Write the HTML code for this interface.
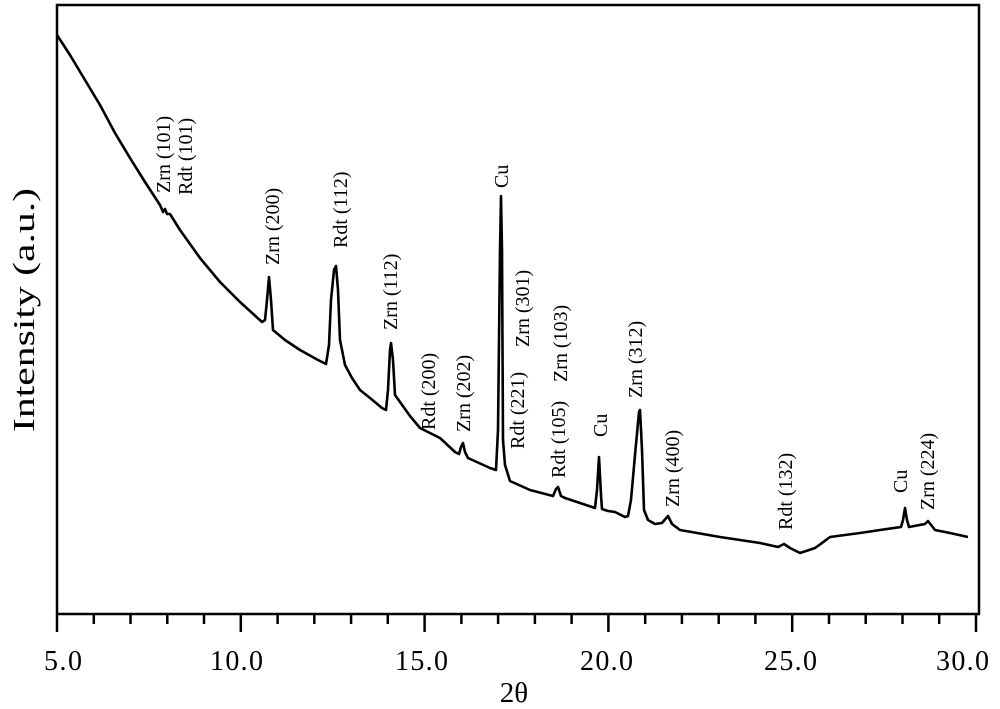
<!DOCTYPE html>
<html><head><meta charset="utf-8"><style>body{margin:0;background:#fff}svg{display:block}</style></head>
<body>
<svg width="1000" height="709" viewBox="0 0 1000 709" xmlns="http://www.w3.org/2000/svg" font-family="Liberation Serif, serif">
<rect x="57" y="5" width="922" height="609" fill="none" stroke="#000" stroke-width="2.5"/>
<g stroke="#000" stroke-width="2.5">
<line x1="57" y1="614" x2="57" y2="632"/><line x1="240.8" y1="614" x2="240.8" y2="632"/><line x1="424.6" y1="614" x2="424.6" y2="632"/><line x1="608.4" y1="614" x2="608.4" y2="632"/><line x1="792.2" y1="614" x2="792.2" y2="632"/><line x1="976" y1="614" x2="976" y2="632"/>
<line x1="93.8" y1="614" x2="93.8" y2="624"/><line x1="130.5" y1="614" x2="130.5" y2="624"/><line x1="167.3" y1="614" x2="167.3" y2="624"/><line x1="204.0" y1="614" x2="204.0" y2="624"/>
<line x1="277.6" y1="614" x2="277.6" y2="624"/><line x1="314.3" y1="614" x2="314.3" y2="624"/><line x1="351.1" y1="614" x2="351.1" y2="624"/><line x1="387.8" y1="614" x2="387.8" y2="624"/>
<line x1="461.4" y1="614" x2="461.4" y2="624"/><line x1="498.1" y1="614" x2="498.1" y2="624"/><line x1="534.9" y1="614" x2="534.9" y2="624"/><line x1="571.6" y1="614" x2="571.6" y2="624"/>
<line x1="645.2" y1="614" x2="645.2" y2="624"/><line x1="681.9" y1="614" x2="681.9" y2="624"/><line x1="718.7" y1="614" x2="718.7" y2="624"/><line x1="755.4" y1="614" x2="755.4" y2="624"/>
<line x1="829.0" y1="614" x2="829.0" y2="624"/><line x1="865.7" y1="614" x2="865.7" y2="624"/><line x1="902.5" y1="614" x2="902.5" y2="624"/><line x1="939.2" y1="614" x2="939.2" y2="624"/>
</g>
<g font-size="28">
<text x="44" y="670" textLength="38">5.0</text><text x="210" y="670" textLength="53">10.0</text><text x="395" y="670" textLength="53">15.0</text><text x="580" y="670" textLength="53">20.0</text><text x="764" y="670" textLength="53">25.0</text><text x="936" y="670" textLength="53">30.0</text>
<text x="514" y="702" font-size="29" text-anchor="middle">2θ</text>
<text transform="translate(34,432) rotate(-90)" font-size="31" textLength="244" lengthAdjust="spacingAndGlyphs">Intensity (a.u.)</text>
</g>
<polyline fill="none" stroke="#000" stroke-width="2.6" stroke-linejoin="round" points="57,35 70,55 85,80 100,105 115,133 130,158 145,182 160,205 163,212 165,209 167,214 170,214 180,230 200,258 220,282 240,302 262,322 265,320 267,300 269,277 271,300 273,330 285,340 300,350 318,360 322,362 326,364 329,345 331,300 334,270 336,266 338,290 340,340 345,365 352,378 360,390 370,398 382,408 386,410 388,390 390,350 391,343 393,360 395,395 400,402 410,416 420,428 440,438 455,452 459,454 461,447 463,443 465,452 468,458 490,468 496,470 498,430 500,250 501,196 502,250 503,440 505,465 510,481 530,490 553,496 556,489 558,487 561,496 565,498 595,508 597,490 599,457 601,495 602,509 608,511 615,512 625,517 628,516 631,500 635,455 639,412 640,410 642,450 644,510 648,520 655,524 662,523 668,516 672,524 680,530 720,537 760,543 778,547 784,544 790,548 800,553 815,548 822,543 830,537 860,533 880,530 901,527 903,520 905,508 907,520 909,527 925,524 928,521 935,530 950,533 968,537"/>
<g font-size="20">
<text transform="translate(170,193) rotate(-90)">Zrn (101)</text>
<text transform="translate(192,195) rotate(-90)">Rdt (101)</text>
<text transform="translate(279,265) rotate(-90)">Zrn (200)</text>
<text transform="translate(347,248) rotate(-90)">Rdt (112)</text>
<text transform="translate(397,330) rotate(-90)">Zrn (112)</text>
<text transform="translate(435,430) rotate(-90)">Rdt (200)</text>
<text transform="translate(470,432) rotate(-90)">Zrn (202)</text>
<text transform="translate(508,188) rotate(-90)">Cu</text>
<text transform="translate(524,449) rotate(-90)">Rdt (221)</text>
<text transform="translate(529,347) rotate(-90)">Zrn (301)</text>
<text transform="translate(567,382) rotate(-90)">Zrn (103)</text>
<text transform="translate(565,478) rotate(-90)">Rdt (105)</text>
<text transform="translate(607,437) rotate(-90)">Cu</text>
<text transform="translate(642,398) rotate(-90)">Zrn (312)</text>
<text transform="translate(679,507) rotate(-90)">Zrn (400)</text>
<text transform="translate(792,530) rotate(-90)">Rdt (132)</text>
<text transform="translate(907,493) rotate(-90)">Cu</text>
<text transform="translate(934,510) rotate(-90)">Zrn (224)</text>
</g>
</svg>
</body></html>
